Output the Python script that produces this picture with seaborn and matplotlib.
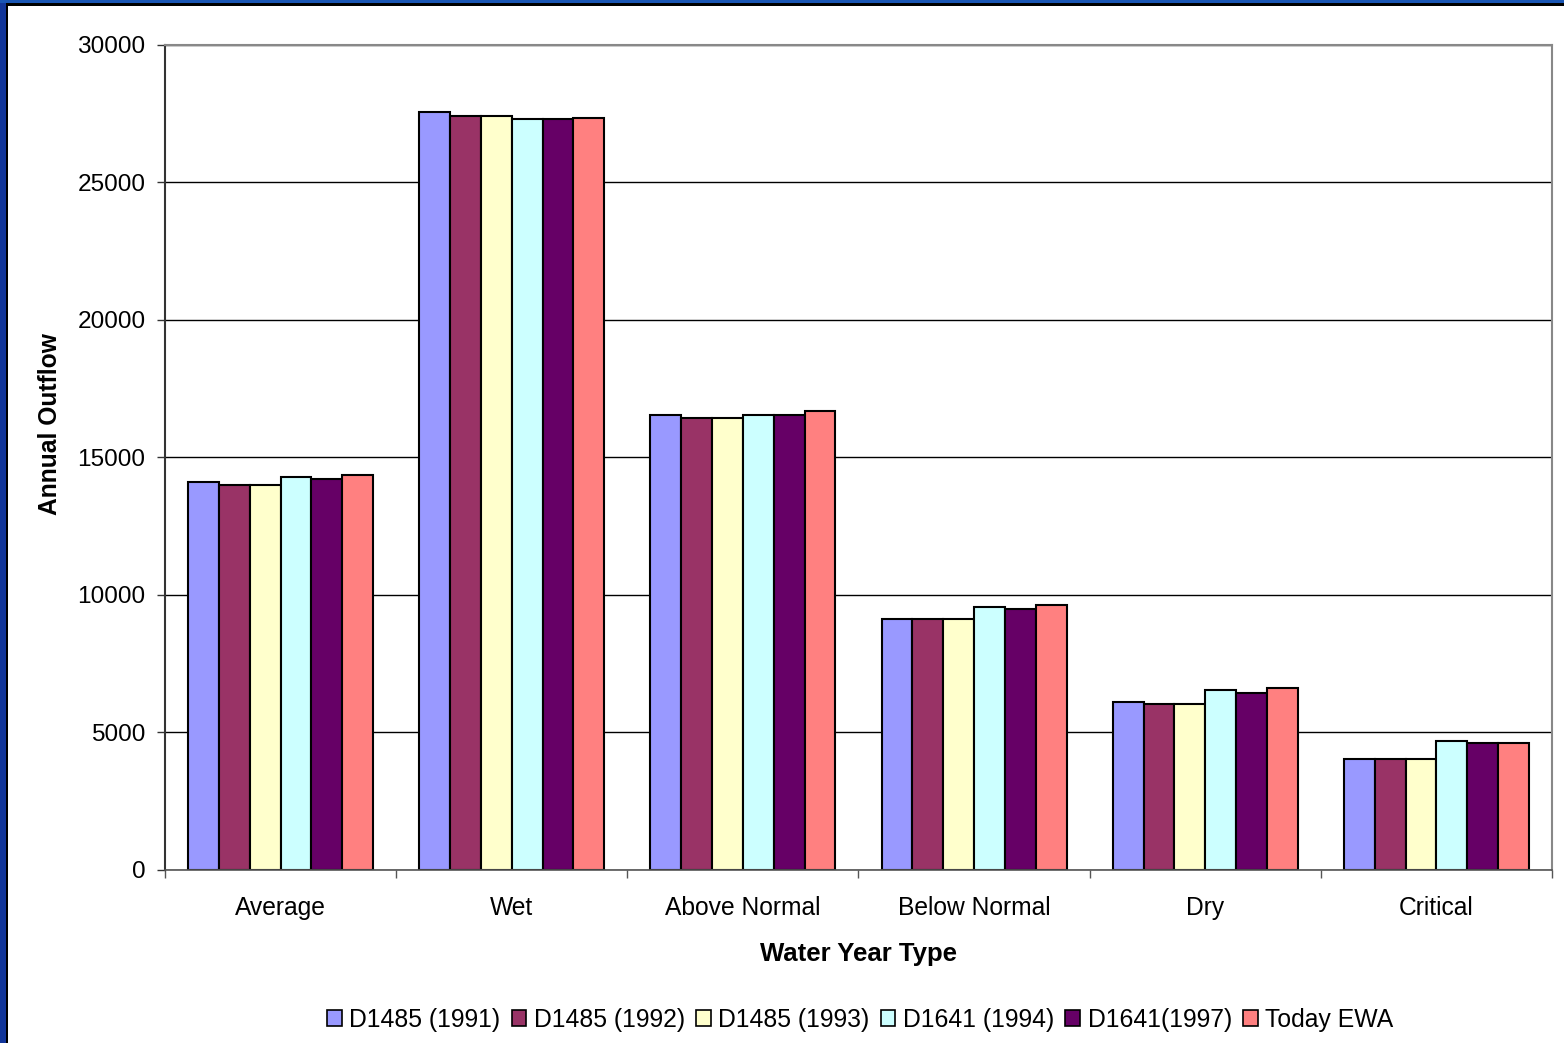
import pandas as pd
import matplotlib.pyplot as plt
import matplotlib.patches as mpatches
from matplotlib.ticker import FixedLocator
import seaborn as sns

# values
year_types = ['Average', 'Wet', 'Above Normal', 'Below Normal', 'Dry', 'Critical']
scenarios = ['D1485 (1991)', 'D1485 (1992)', 'D1485 (1993)', 'D1641 (1994)', 'D1641(1997)', 'Today EWA']
d1485_1991 = [14090, 27560, 16560, 9130, 6100, 4040]
d1485_1992 = [14010, 27430, 16420, 9130, 6040, 4040]
d1485_1993 = [14010, 27430, 16420, 9130, 6040, 4040]
d1641_1994 = [14300, 27310, 16560, 9570, 6530, 4690]
d1641_1997 = [14230, 27310, 16560, 9490, 6450, 4620]
today_ewa = [14370, 27350, 16700, 9640, 6600, 4620]
colors = ['#9999FF', '#993366', '#FFFFCC', '#CCFFFF', '#660066', '#FF8080']

series = [d1485_1991, d1485_1992, d1485_1993, d1641_1994, d1641_1997, today_ewa]
rows = []
for name, vals in zip(scenarios, series):
    for t, v in zip(year_types, vals):
        rows.append({'type': t, 'scenario': name, 'outflow': v})
df = pd.DataFrame(rows)

sns.set_style('white')
plt.rcParams['font.family'] = ['Liberation Sans', 'DejaVu Sans']
plt.rcParams['text.color'] = 'black'
plt.rcParams['axes.labelcolor'] = 'black'
plt.rcParams['xtick.color'] = 'black'
plt.rcParams['ytick.color'] = 'black'

fig = plt.figure(figsize=(15.64, 10.43), dpi=100)
ax = fig.add_axes([0.1055, 0.1659, 0.9923 - 0.1055, 0.9569 - 0.1659])

sns.barplot(data=df, x='type', y='outflow', hue='scenario', order=year_types,
            hue_order=scenarios, palette=colors, edgecolor='black', linewidth=1.5,
            width=0.8, saturation=1, legend=False, ax=ax)

ax.set_xlim(-0.5, 5.5)
ax.set_ylim(0, 30000)
ax.set_yticks(range(0, 30001, 5000))
ax.yaxis.grid(True, color='black', linewidth=1)
ax.set_axisbelow(True)

for side in ['top', 'right']:
    ax.spines[side].set_color('#888888')
    ax.spines[side].set_linewidth(1.5)
ax.spines['left'].set_color('#333333')
ax.spines['left'].set_linewidth(1.5)
ax.spines['bottom'].set_color('#555555')
ax.spines['bottom'].set_linewidth(1.2)

ax.tick_params(axis='y', which='major', left=True, length=6, width=1, color='#333333',
               labelsize=17.6, pad=8)
ax.tick_params(axis='x', which='major', bottom=False, labelsize=17.7, pad=15)
ax.xaxis.set_minor_locator(FixedLocator([i + 0.5 for i in range(-1, 6)]))
ax.tick_params(axis='x', which='minor', bottom=True, length=6, width=1, color='#555555')

ax.set_xlabel('Water Year Type', fontsize=18.5, fontweight='bold')
ax.xaxis.set_label_coords(0.5, -0.087)
ax.set_ylabel('Annual Outflow', fontsize=17.7, fontweight='bold')
ax.yaxis.set_label_coords(-0.074, 0.54)

handles = [mpatches.Patch(facecolor=c, edgecolor='black', linewidth=1.2) for c in colors]
fig.legend(handles, scenarios, loc='center', bbox_to_anchor=(0.55, 0.022), ncol=6,
           frameon=False, fontsize=17.8, handlelength=0.6, handleheight=0.6,
           handletextpad=0.3, columnspacing=0.45)

# blue slide frame on the left and top
fig.patches.append(mpatches.Rectangle((0, 0), 6 / 1564, 1, transform=fig.transFigure,
                                      facecolor='#12369a', edgecolor='none'))
fig.patches.append(mpatches.Rectangle((0, 1 - 3 / 1043), 1, 3 / 1043, transform=fig.transFigure,
                                      facecolor='#1a56b4', edgecolor='none'))
fig.patches.append(mpatches.Rectangle((6 / 1564, 0), 2 / 1564, 1 - 3 / 1043, transform=fig.transFigure,
                                      facecolor='black', edgecolor='none'))
fig.patches.append(mpatches.Rectangle((6 / 1564, 1 - 6 / 1043), 1, 3 / 1043, transform=fig.transFigure,
                                      facecolor='black', edgecolor='none'))

fig.savefig('out.png', dpi=100)
